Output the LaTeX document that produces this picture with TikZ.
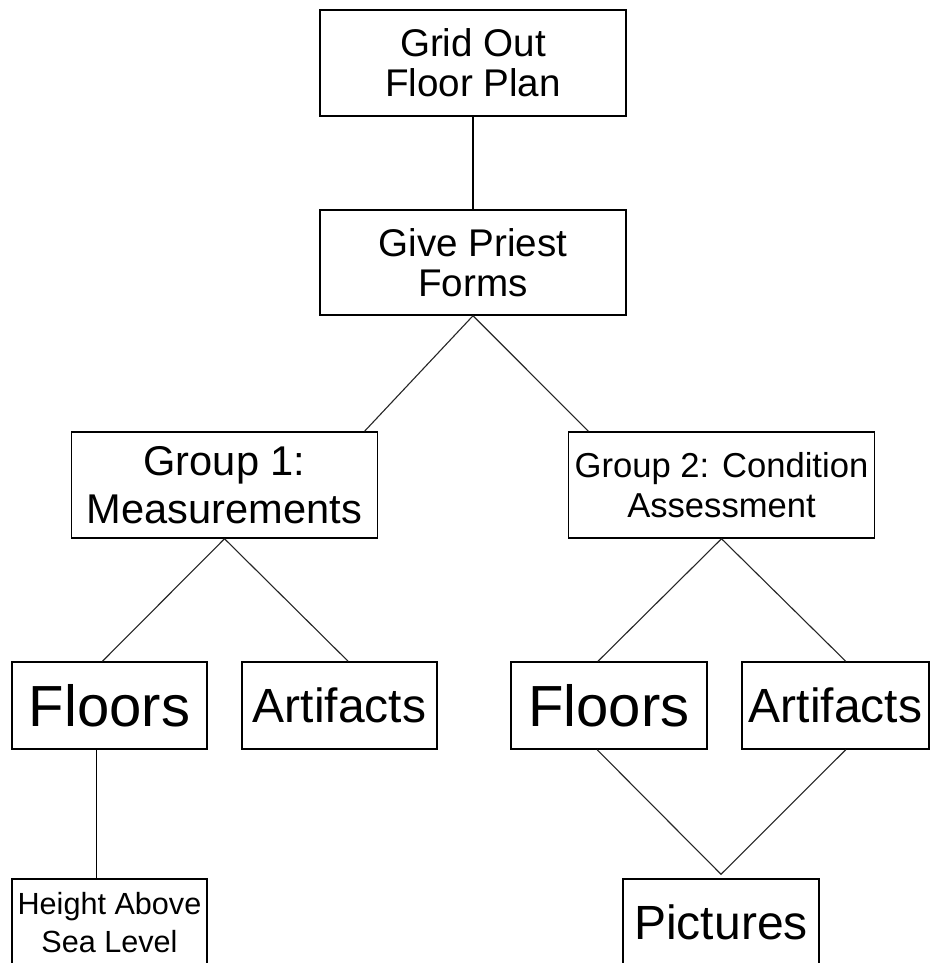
\documentclass[tikz,border=0pt]{standalone}
\usepackage{fontspec}
\setmainfont{Liberation Sans}
\usepackage{tikz}
\usetikzlibrary{positioning}
\newcommand{\fs}[2]{\fontsize{#1}{#2}\selectfont}
\tikzset{
  task/.style    ={draw=black, line width=0.75pt, fill=white, align=center, inner sep=0pt},
  bigtask/.style ={task, minimum width=153pt, minimum height=53pt},
  smalltask/.style={task, minimum width=97.5pt, minimum height=43.5pt},
  link/.style    ={line width=0.55pt, draw=black!85},
  stem/.style    ={line width=0.6pt, draw=black},
}
\begin{document}
\begin{tikzpicture}[x=0.5pt,y=-0.5pt]
\clip (0,0) rectangle (930,963);
\fill[white] (0,0) rectangle (930,963);
% top of the tree
\node[bigtask, font=\fs{19.3}{20}] (plan) at (473,63) {Grid Out\\Floor Plan};
\node[bigtask, minimum height=52.5pt, font=\fs{19.3}{20}] (priest) at (473,262.5) {Give Priest\\Forms};
% the two groups
\node[bigtask, font=\fs{20.8}{24}] (grpA) at (224.5,485) {Group 1:\\Measurements};
\node[bigtask, font=\fs{17.3}{20}] (grpB) at (721.5,485) {Group 2: Condition\\Assessment};
% what each group looks at
\node[smalltask, font=\fs{29}{32}] (floorsA) at (109.5,705.5) {Floors};
\node[smalltask, font=\fs{24}{28}] (artA) at (339.5,705.5) {Artifacts};
\node[smalltask, minimum width=98pt, font=\fs{29}{32}] (floorsB) at (609,705.5) {Floors};
\node[smalltask, minimum width=93.5pt, font=\fs{24}{28}] (artB) at (835.5,705.5) {Artifacts};
\node[smalltask, font=\fs{15.3}{19}] (height) at (109.5,922.5) {Height Above\\Sea Level};
\node[smalltask, minimum width=98pt, font=\fs{24}{28}] (pics) at (721,922.5) {Pictures};
\coordinate[above=2pt of pics] (meet);
% connectors
\draw[stem] (plan.south) -- (priest.north);
\draw[link] (priest.south) -- (grpA.21.7);
\draw[link] (priest.south) -- (grpB.158.3);
\draw[link] (grpA.south) -- (floorsA.99.8);
\draw[link] (grpA.south) -- (artA.79);
\draw[link] (grpB.south) -- (floorsB.104.2);
\draw[link] (grpB.south) -- (artB.77.7);
\draw[stem] (floorsA.-106) -- (height.106);
\draw[link] (floorsB.-105.4) -- (meet) -- (artB.-77.7);
\end{tikzpicture}
\end{document}
